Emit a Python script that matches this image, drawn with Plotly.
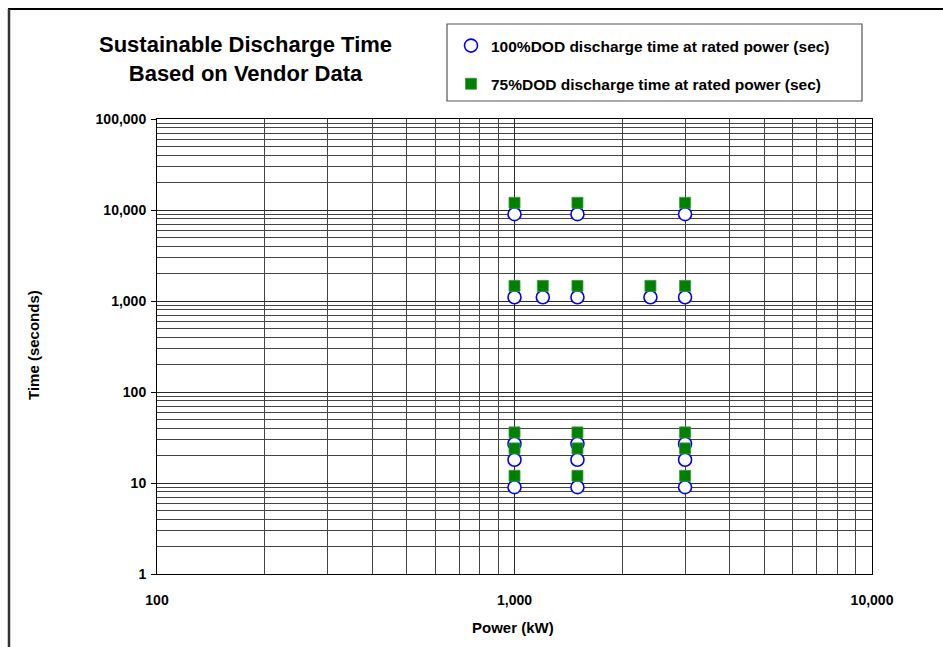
import plotly.graph_objects as go

# Rated power (kW) and discharge times (s) for each vendor point
power_kw = [1000, 1500, 3000,
            1000, 1200, 1500, 2400, 3000,
            1000, 1500, 3000,
            1000, 1500, 3000,
            1000, 1500, 3000]
time_100dod = [9000, 9000, 9000,
               1100, 1100, 1100, 1100, 1100,
               27, 27, 27,
               18, 18, 18,
               9, 9, 9]
time_75dod = [12000, 12000, 12000,
              1467, 1467, 1467, 1467, 1467,
              36, 36, 36,
              24, 24, 24,
              12, 12, 12]

x_major = [100, 1000, 10000]
x_major_text = ["100", "1,000", "10,000"]
y_major = [1, 10, 100, 1000, 10000, 100000]
y_major_text = ["1", "10", "100", "1,000", "10,000", "100,000"]

x_minor = [m * d for d in [100, 1000] for m in range(2, 10)]
y_minor = [m * d for d in [1, 10, 100, 1000, 10000] for m in range(2, 10)]

FONT = "Arial, Liberation Sans, sans-serif"

# plot area in pixels: left 157, right 872, top 119, bottom 574
PW, PH = 715, 455


def px(x):
    return (x - 157) / PW


def py(y):
    return (574 - y) / PH


fig = go.Figure()
fig.add_trace(go.Scatter(
    x=power_kw, y=time_100dod, mode="markers",
    name="<b>100%DOD discharge time at rated power (sec)</b>",
    legendgroup="a",
    marker=dict(symbol="circle", size=13, color="white",
                line=dict(color="#0000FF", width=1.6)),
))
fig.add_trace(go.Scatter(
    x=power_kw, y=time_75dod, mode="markers",
    name="<b>75%DOD discharge time at rated power (sec)</b>",
    legendgroup="b",
    marker=dict(symbol="square", size=11, color="#008000",
                line=dict(color="#3a9a3a", width=0.8)),
))

grid_col = "#2a2a2a"
fig.update_xaxes(
    type="log", range=[2, 4],
    tickmode="array", tickvals=x_major, ticktext=x_major_text,
    showgrid=True, gridcolor=grid_col, gridwidth=1,
    minor=dict(tickmode="array", tickvals=x_minor, showgrid=True,
               gridcolor="#444444", gridwidth=1, ticks=""),
    showline=True, linecolor="black", linewidth=1, mirror=True,
    ticks="", ticklabelstandoff=13,
    tickfont=dict(family=FONT, size=14, color="black", weight="bold"),
    zeroline=False,
)
fig.update_yaxes(
    type="log", range=[0, 5],
    tickmode="array", tickvals=y_major, ticktext=y_major_text,
    showgrid=True, gridcolor=grid_col, gridwidth=1,
    minor=dict(tickmode="array", tickvals=y_minor, showgrid=True,
               gridcolor="#444444", gridwidth=1, ticks=""),
    showline=True, linecolor="black", linewidth=1, mirror=True,
    ticks="outside", ticklen=5, tickcolor="black", tickwidth=1,
    ticklabelstandoff=2,
    tickfont=dict(family=FONT, size=14, color="black", weight="bold"),
    zeroline=False,
)

# Outer chart frame (top and left edges) and legend box
fig.add_shape(type="line", xref="paper", yref="paper",
              x0=px(8), x1=px(943), y0=py(9), y1=py(9),
              line=dict(color="black", width=2))
fig.add_shape(type="line", xref="paper", yref="paper",
              x0=px(9), x1=px(9), y0=py(9), y1=py(647),
              line=dict(color="#333333", width=2.5))
fig.add_shape(type="rect", xref="paper", yref="paper",
              x0=px(447), x1=px(862), y0=py(101), y1=py(24),
              line=dict(color="#555555", width=1.2), fillcolor="white",
              layer="below")

fig.add_annotation(
    text="<b>Sustainable Discharge Time<br>Based on Vendor Data</b>",
    xref="paper", yref="paper", x=px(245), y=py(58.5),
    xanchor="center", yanchor="middle", showarrow=False, align="center",
    font=dict(family=FONT, size=22, color="black"),
)
fig.add_annotation(
    text="<b>Time (seconds)</b>", textangle=-90,
    xref="paper", yref="paper", x=px(33), y=py(345),
    xanchor="center", yanchor="middle", showarrow=False,
    font=dict(family=FONT, size=15, color="black"),
)
fig.add_annotation(
    text="<b>Power (kW)</b>",
    xref="paper", yref="paper", x=px(513), y=py(627),
    xanchor="center", yanchor="middle", showarrow=False,
    font=dict(family=FONT, size=15, color="black"),
)

fig.update_layout(
    width=943, height=647,
    margin=dict(l=157, r=71, t=119, b=73),
    paper_bgcolor="white", plot_bgcolor="white",
    showlegend=True,
    legend=dict(
        x=px(451), y=py(29), xanchor="left", yanchor="top",
        bgcolor="rgba(0,0,0,0)", borderwidth=0,
        traceorder="grouped", tracegroupgap=15,
        font=dict(family=FONT, size=15.5, color="black"),
        itemclick=False,
    ),
)

fig.write_html("out.html")
